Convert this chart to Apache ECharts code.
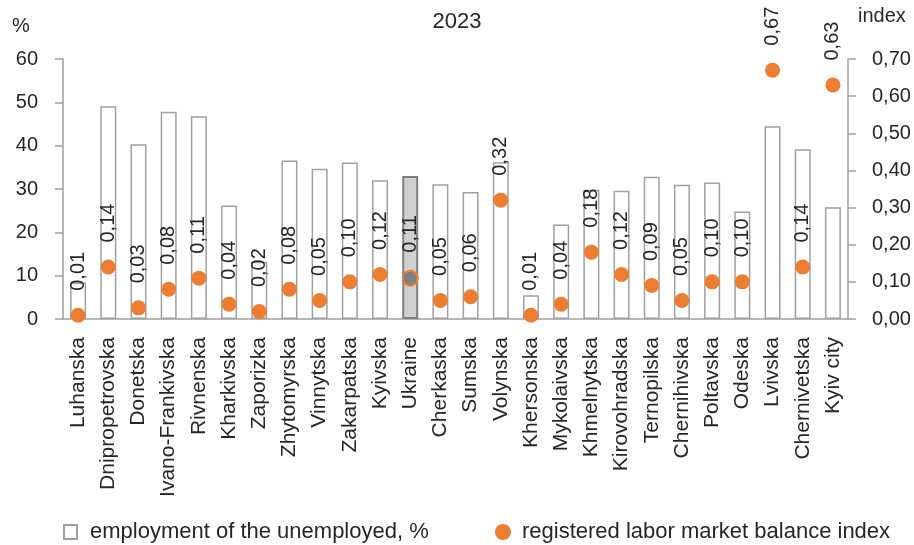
<!DOCTYPE html>
<html>
<head>
<meta charset="utf-8">
<script src="https://cdn.jsdelivr.net/npm/echarts@6/dist/echarts.min.js"></script>
<style>
  html, body { margin: 0; padding: 0; background: #fff; }
  #chart { width: 914px; height: 545px; }
</style>
</head>
<body>
<div id="chart"></div>
<script>
// Regions of Ukraine, 2023
const regions = [
  'Luhanska', 'Dnipropetrovska', 'Donetska', 'Ivano-Frankivska', 'Rivnenska',
  'Kharkivska', 'Zaporizka', 'Zhytomyrska', 'Vinnytska', 'Zakarpatska',
  'Kyivska', 'Ukraine', 'Cherkaska', 'Sumska', 'Volynska', 'Khersonska',
  'Mykolaivska', 'Khmelnytska', 'Kirovohradska', 'Ternopilska', 'Chernihivska',
  'Poltavska', 'Odeska', 'Lvivska', 'Chernivetska', 'Kyiv city'
];

// employment of the unemployed, %
const employmentShare = [
  8.4, 49.1, 40.3, 47.8, 46.8, 26.2, 13.2, 36.6, 34.7, 36.1,
  32.0, 33.0, 31.1, 29.3, 36.2, 5.5, 21.8, 29.8, 29.6, 32.8,
  31.0, 31.5, 24.8, 44.5, 39.2, 25.8
];

// registered labor market balance index
const balanceIndex = [
  0.01, 0.14, 0.03, 0.08, 0.11, 0.04, 0.02, 0.08, 0.05, 0.10,
  0.12, 0.11, 0.05, 0.06, 0.32, 0.01, 0.04, 0.18, 0.12, 0.09,
  0.05, 0.10, 0.10, 0.67, 0.14, 0.63
];

const leftTicks = { min: 0, max: 60, interval: 10 };
const rightTicks = { min: 0, max: 0.7, interval: 0.1 };

const seriesNames = ['employment of the unemployed, %', 'registered labor market balance index'];
const highlight = 'Ukraine';

const ORANGE = '#ED7D31';
const AXIS = '#a0a0a0';
const TEXT = '#262626';
const FONT = 'Liberation Sans, Arial, sans-serif';

const comma = v => Number(v).toFixed(2).replace('.', ',');

const barData = employmentShare.map((v, i) => regions[i] === highlight
  ? { value: v, itemStyle: { color: '#d0d0d0', borderColor: '#7f7f7f', borderWidth: 2 } }
  : v);

const dotData = balanceIndex.map((v, i) => regions[i] === highlight
  ? { value: v, itemStyle: { color: '#808080', borderColor: ORANGE, borderWidth: 2 } }
  : v);

const chart = echarts.init(document.getElementById('chart'), null, { renderer: 'canvas' });

chart.setOption({
  animation: false,
  backgroundColor: '#fff',
  textStyle: { fontFamily: FONT, color: TEXT },
  title: {
    text: '2023',
    left: 'center',
    top: 6,
    textStyle: { fontFamily: FONT, fontSize: 22, fontWeight: 'normal', color: TEXT }
  },
  graphic: [
    { type: 'text', left: 12, top: 16, style: { text: '%', fontFamily: FONT, fontSize: 20, fill: TEXT } },
    { type: 'text', left: 858, top: 6, style: { text: 'index', fontFamily: FONT, fontSize: 20, fill: TEXT } }
  ],
  legend: [
    {
      left: 58, top: 516,
      data: [{ name: seriesNames[0], icon: 'rect' }],
      itemWidth: 13, itemHeight: 14,
      textStyle: { fontFamily: FONT, fontSize: 22, color: TEXT, padding: [0, 0, 0, 8] },
      selectedMode: false
    },
    {
      left: 490, top: 516,
      data: [{ name: seriesNames[1], icon: 'circle' }],
      itemWidth: 16, itemHeight: 16,
      textStyle: { fontFamily: FONT, fontSize: 22, color: TEXT, padding: [0, 0, 0, 6] },
      selectedMode: false
    }
  ],
  grid: { left: 63, right: 66, top: 59, bottom: 226, containLabel: false },
  xAxis: {
    type: 'category',
    data: regions,
    axisLine: { show: true, lineStyle: { color: AXIS, width: 1.5 } },
    axisTick: { show: false },
    axisLabel: { rotate: 90, margin: 18, fontSize: 21, color: TEXT, fontFamily: FONT, interval: 0 }
  },
  yAxis: [
    {
      type: 'value',
      min: leftTicks.min, max: leftTicks.max, interval: leftTicks.interval,
      splitLine: { show: false },
      axisLine: { show: true, lineStyle: { color: AXIS, width: 1.5 } },
      axisTick: { show: true, length: 8, lineStyle: { color: AXIS, width: 1.5 } },
      axisLabel: { margin: 25, fontSize: 20, color: TEXT, fontFamily: FONT }
    },
    {
      type: 'value',
      position: 'right',
      min: rightTicks.min, max: rightTicks.max, interval: rightTicks.interval,
      splitLine: { show: false },
      axisLine: { show: true, lineStyle: { color: AXIS, width: 1.5 } },
      axisTick: { show: true, length: 8, lineStyle: { color: AXIS, width: 1.5 } },
      axisLabel: { margin: 24, fontSize: 20, color: TEXT, fontFamily: FONT, formatter: comma }
    }
  ],
  series: [
    {
      name: seriesNames[0],
      type: 'bar',
      data: barData,
      barWidth: 16,
      itemStyle: { color: '#ffffff', borderColor: AXIS, borderWidth: 1.5 },
      z: 2
    },
    {
      name: seriesNames[1],
      type: 'scatter',
      yAxisIndex: 1,
      data: dotData,
      symbol: 'circle',
      symbolSize: 15,
      itemStyle: { color: ORANGE, opacity: 1 },
      label: {
        show: true,
        position: 'top',
        distance: 17,
        rotate: 90,
        align: 'left',
        verticalAlign: 'middle',
        fontSize: 20,
        color: TEXT,
        opacity: 1,
        fontFamily: FONT,
        formatter: p => comma(p.value)
      },
      labelLayout: { hideOverlap: false },
      z: 5
    }
  ]
});
</script>
</body>
</html>
